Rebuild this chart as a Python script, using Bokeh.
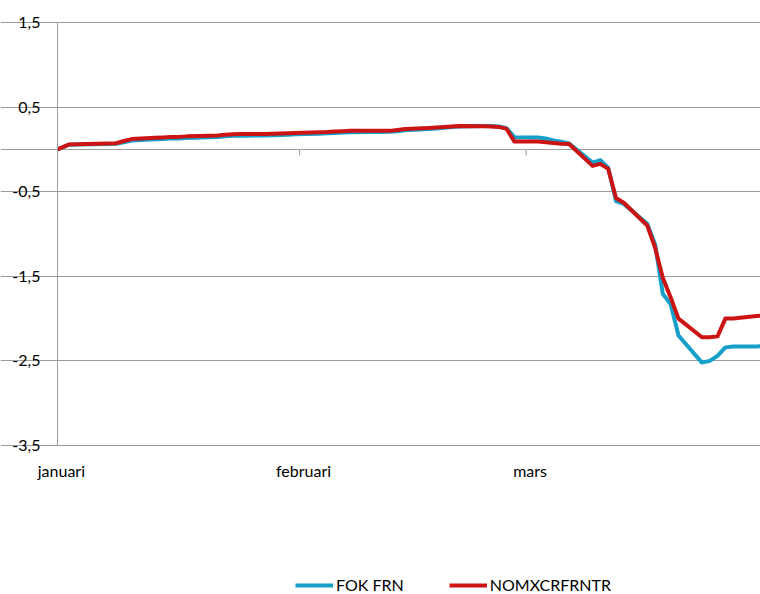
import pandas as pd
from bokeh.plotting import figure
from bokeh.models import FixedTicker, Grid, Legend, LegendItem, LinearAxis, Range1d
from bokeh.embed import file_html
from bokeh.resources import INLINE

# ---- data ----
dates = [
    "2020-01-01", "2020-01-02", "2020-01-03", "2020-01-07", "2020-01-08", "2020-01-09", "2020-01-10",
    "2020-01-13", "2020-01-14", "2020-01-15", "2020-01-16", "2020-01-17",
    "2020-01-20", "2020-01-21", "2020-01-22", "2020-01-23", "2020-01-24",
    "2020-01-27", "2020-01-28", "2020-01-29", "2020-01-30", "2020-01-31",
    "2020-02-03", "2020-02-04", "2020-02-05", "2020-02-06", "2020-02-07",
    "2020-02-10", "2020-02-11", "2020-02-12", "2020-02-13", "2020-02-14",
    "2020-02-17", "2020-02-18", "2020-02-19", "2020-02-20", "2020-02-21",
    "2020-02-24", "2020-02-25", "2020-02-26", "2020-02-27", "2020-02-28",
    "2020-03-02", "2020-03-03", "2020-03-04", "2020-03-05", "2020-03-06",
    "2020-03-09", "2020-03-10", "2020-03-11", "2020-03-12", "2020-03-13",
    "2020-03-16", "2020-03-17", "2020-03-18", "2020-03-19", "2020-03-20",
    "2020-03-23", "2020-03-24", "2020-03-25", "2020-03-26", "2020-03-27",
    "2020-03-30", "2020-03-31",
]
fok_frn = [
    0.0, 0.055, 0.057, 0.065, 0.067, 0.085, 0.105,
    0.120, 0.124, 0.128, 0.130, 0.135,
    0.143, 0.146, 0.155, 0.160, 0.162,
    0.165, 0.168, 0.170, 0.173, 0.178,
    0.186, 0.190, 0.195, 0.200, 0.203,
    0.205, 0.207, 0.210, 0.215, 0.225,
    0.240, 0.247, 0.255, 0.265, 0.272,
    0.278, 0.278, 0.272, 0.250, 0.145,
    0.140, 0.130, 0.106, 0.090, 0.070,
    -0.156, -0.128, -0.215, -0.610, -0.644,
    -0.880, -1.120, -1.710, -1.830, -2.200,
    -2.520, -2.500, -2.440, -2.340, -2.330,
    -2.330, -2.320,
]
nomxcrfrntr = [
    0.0, 0.059, 0.061, 0.071, 0.073, 0.100, 0.122,
    0.138, 0.142, 0.148, 0.148, 0.154,
    0.162, 0.165, 0.174, 0.180, 0.181,
    0.183, 0.186, 0.189, 0.191, 0.195,
    0.204, 0.207, 0.213, 0.216, 0.219,
    0.219, 0.219, 0.219, 0.230, 0.240,
    0.254, 0.260, 0.266, 0.272, 0.278,
    0.275, 0.272, 0.266, 0.242, 0.092,
    0.092, 0.085, 0.077, 0.067, 0.063,
    -0.195, -0.171, -0.230, -0.575, -0.630,
    -0.900, -1.160, -1.520, -1.750, -2.000,
    -2.220, -2.220, -2.210, -2.000, -2.000,
    -1.970, -1.960,
]
series_names = ["FOK FRN", "NOMXCRFRNTR"]
series_colors = ["#14A0C8", "#CC1414"]

y_ticks = [-3.5, -2.5, -1.5, -0.5, 0.5, 1.5]
y_tick_labels = ["-3,5", "-2,5", "-1,5", "-0,5", "0,5", "1,5"]
month_starts = ["2020-01-01", "2020-02-01", "2020-03-01"]
month_labels = ["januari", "februari", "mars"]

# ---- derived positions (day index since Jan 1; first point is the base, others at mid-day) ----
origin = pd.Timestamp("2020-01-01")
x = [0.0] + [(pd.Timestamp(d) - origin).days + 0.5 for d in dates[1:]]
month_x = [float((pd.Timestamp(d) - origin).days) for d in month_starts]
month_label_x = [m + 0.5 for m in month_x]

GRAY = "#9C9C9C"
FONT = "Lato"
W, H = 760, 594
TOP_PX = 22         # px above the 1,5 gridline
AXIS_PX = 57        # px from the left edge to the value axis
BAND_PX = 423       # px height of the tick band (-3,5 .. 1,5)
X_END = 90          # days shown (the plot runs to the right edge)

y_tick_lo, y_tick_hi = min(y_ticks), max(y_ticks)
units_per_px = (y_tick_hi - y_tick_lo) / BAND_PX
y_top = y_tick_hi + TOP_PX * units_per_px
y_lo = y_top - H * units_per_px
x_start = -AXIS_PX * X_END / (W - AXIS_PX)

p = figure(width=W, height=H, output_backend="svg", toolbar_location=None,
           x_range=Range1d(x_start, X_END), y_range=Range1d(y_lo, y_top),
           x_axis_location=None, y_axis_location=None,
           min_border_left=0, min_border_right=0,
           min_border_top=0, min_border_bottom=0)
p.outline_line_color = None
p.background_fill_color = "white"
# drop default grids
p.center = [c for c in p.center if not isinstance(c, Grid)]

# horizontal gridlines (only right of the value axis)
p.add_layout(Grid(dimension=1, ticker=FixedTicker(ticks=y_ticks), bounds=(0, X_END),
                  grid_line_color=GRAY, grid_line_width=1))
# category axis line at zero
p.add_layout(Grid(dimension=1, ticker=FixedTicker(ticks=[0]), bounds=(0, X_END),
                  grid_line_color=GRAY, grid_line_width=1))

# value axis
ya = LinearAxis(fixed_location=0, ticker=FixedTicker(ticks=y_ticks), bounds=(y_tick_lo, y_tick_hi),
                major_label_overrides=dict(zip(y_ticks, y_tick_labels)),
                axis_line_color=GRAY, major_tick_line_color=GRAY,
                major_tick_in=0, major_tick_out=6, minor_tick_line_color=None,
                major_label_standoff=11, major_label_text_font=FONT,
                major_label_text_font_size="16px", major_label_text_color="black")
p.add_layout(ya, "left")

# month labels below the bottom gridline
xa = LinearAxis(fixed_location=y_tick_lo, ticker=FixedTicker(ticks=month_label_x),
                major_label_overrides=dict(zip(month_label_x, month_labels)),
                axis_line_color=None, major_tick_line_color=None, minor_tick_line_color=None,
                major_tick_in=0, major_tick_out=0, major_label_standoff=15,
                major_label_text_font=FONT, major_label_text_font_size="16px",
                major_label_text_color="black")
p.add_layout(xa, "below")

# month tick marks hanging down from the zero line
tick_len = 6 * units_per_px
p.segment(x0=month_x, y0=[0] * len(month_x), x1=month_x, y1=[-tick_len] * len(month_x),
          line_color=GRAY, line_width=1)

# series
r1 = p.line(x, fok_frn, line_color=series_colors[0], line_width=4, line_join="round")
r2 = p.line(x, nomxcrfrntr, line_color=series_colors[1], line_width=4, line_join="round")

legend = Legend(items=[LegendItem(label=series_names[0], renderers=[r1]),
                       LegendItem(label=series_names[1], renderers=[r2])],
                orientation="horizontal", location=(295, 0),
                glyph_width=38, glyph_height=16, label_height=16,
                label_standoff=3, spacing=45,
                padding=0, margin=0, border_line_color=None, background_fill_alpha=0,
                label_text_font=FONT, label_text_font_size="16px", label_text_color="black")
p.add_layout(legend, "center")

open("out.html", "w").write(file_html(p, INLINE))
